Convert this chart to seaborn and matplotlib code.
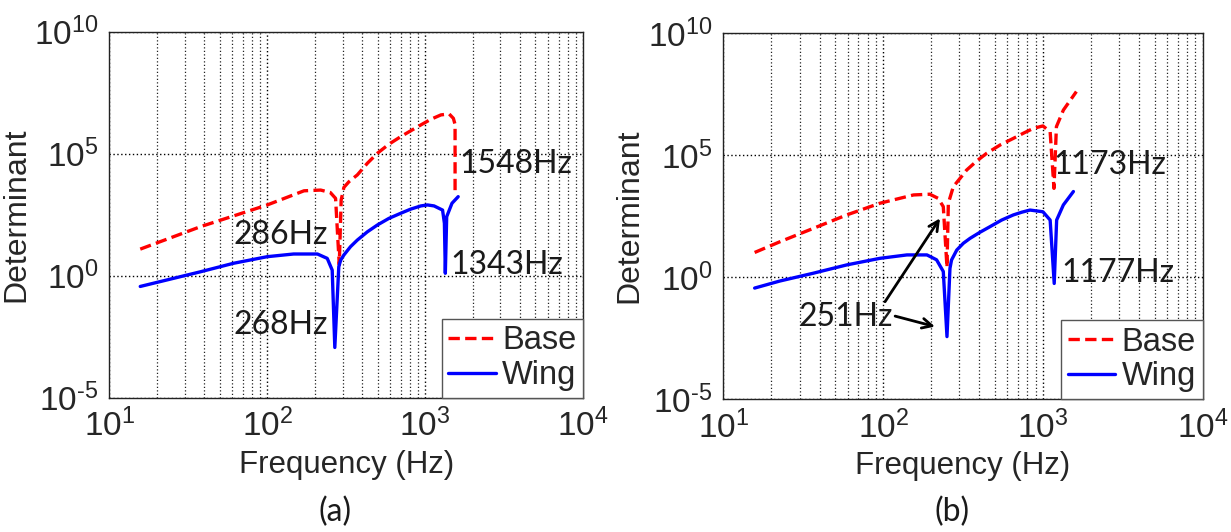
import numpy as np
import pandas as pd
import matplotlib
matplotlib.use("Agg")
import matplotlib.pyplot as plt
from matplotlib.ticker import LogLocator, NullLocator, FixedLocator, FixedFormatter
import seaborn as sns

# ---- panel (a): frequency [Hz] and log10(determinant) ----
a_base_freq = [15.7, 37.8, 61.2, 100, 171, 218, 251, 271, 286, 294, 306, 329,
               372, 431, 499, 590, 701, 811, 940, 1087, 1259, 1420, 1510, 1548, 1548]
a_base_logdet = [1.09, 2.01, 2.45, 2.90, 3.48, 3.51, 3.41, 3.17, 0.45, 3.10, 3.62, 3.85,
                 4.13, 4.61, 5.02, 5.39, 5.70, 5.94, 6.18, 6.41, 6.59, 6.63, 6.45, 6.20, 3.44]
a_wing_freq = [15.7, 37.7, 61.2, 100, 147, 208, 240, 258, 268, 284, 292, 306, 337,
               372, 431, 499, 590, 701, 811, 940, 1035, 1140, 1290, 1325, 1343,
               1370, 1480, 1620]
a_wing_logdet = [-0.44, 0.16, 0.51, 0.78, 0.89, 0.89, 0.71, 0.23, -2.94, 0.37, 0.64, 0.85, 1.19,
                 1.46, 1.80, 2.08, 2.35, 2.56, 2.73, 2.86, 2.90, 2.86, 2.69, 2.15, 0.10,
                 2.42, 2.97, 3.24]

# ---- panel (b) ----
b_base_freq = [15.7, 22.6, 36.6, 59.2, 95.5, 155, 196, 221, 238, 251, 256, 275, 303,
               333, 385, 445, 540, 653, 754, 871, 1000, 1110, 1173, 1215, 1343, 1620]
b_base_logdet = [1.01, 1.45, 2.00, 2.55, 3.03, 3.37, 3.40, 3.23, 2.89, 0.40, 3.03, 3.71, 4.05,
                 4.39, 4.76, 5.08, 5.42, 5.69, 5.90, 6.10, 6.20, 5.96, 3.64, 6.17, 6.85, 7.61]
b_wing_freq = [15.7, 22.6, 36.6, 59.2, 95.5, 141, 188, 216, 238, 251, 262, 268, 289, 318,
               350, 404, 467, 552, 653, 736, 830, 1000, 1110, 1177, 1219, 1343, 1552]
b_wing_logdet = [-0.45, -0.16, 0.16, 0.50, 0.77, 0.91, 0.91, 0.71, 0.23, -2.44, 0.36, 0.70, 1.11,
                 1.39, 1.59, 1.84, 2.07, 2.34, 2.55, 2.66, 2.75, 2.68, 2.34, -0.26, 2.34,
                 2.96, 3.51]

series_names = ["Base", "Wing"]
x_ticks = [1e1, 1e2, 1e3, 1e4]
x_tick_labels = ["$10^{1}$", "$10^{2}$", "$10^{3}$", "$10^{4}$"]
y_ticks = [1e-5, 1e0, 1e5, 1e10]
y_tick_labels = ["$10^{\u20105}$", "$10^{0}$", "$10^{5}$", "$10^{10}$"]

sns.set_style("white")
plt.rcParams["font.family"] = ["Liberation Sans", "DejaVu Sans"]
plt.rcParams["axes.unicode_minus"] = False
plt.rcParams["mathtext.default"] = "regular"

DOT = (0, (1, 1.8))
LABEL_FONT = ["Lato", "DejaVu Sans"]


def build_frame(base_f, base_d, wing_f, wing_d):
    base = pd.DataFrame({"Frequency": base_f,
                         "Determinant": np.power(10.0, base_d),
                         "Series": series_names[0]})
    wing = pd.DataFrame({"Frequency": wing_f,
                         "Determinant": np.power(10.0, wing_d),
                         "Series": series_names[1]})
    return pd.concat([base, wing], ignore_index=True)


def draw_panel(ax, frame):
    sns.lineplot(data=frame, x="Frequency", y="Determinant", hue="Series",
                 style="Series", hue_order=series_names, style_order=series_names,
                 palette={"Base": "#ff0000", "Wing": "#0000ff"},
                 dashes={"Base": (3.4, 1.6), "Wing": ""},
                 sort=False, estimator=None, linewidth=2.4, legend=False, ax=ax)
    ax.set_xscale("log")
    ax.set_yscale("log")
    ax.set_xlim(x_ticks[0], x_ticks[-1])
    ax.set_ylim(y_ticks[0], y_ticks[-1])
    ax.xaxis.set_major_locator(FixedLocator(x_ticks))
    ax.xaxis.set_major_formatter(FixedFormatter(x_tick_labels))
    ax.yaxis.set_major_locator(FixedLocator(y_ticks))
    ax.yaxis.set_major_formatter(FixedFormatter(y_tick_labels))
    ax.xaxis.set_minor_locator(LogLocator(base=10, subs=np.arange(2, 10), numticks=20))
    ax.yaxis.set_minor_locator(NullLocator())
    ax.grid(which="major", axis="both", color="black", linestyle=DOT, linewidth=1.0)
    ax.grid(which="minor", axis="x", color="#222222", linestyle=DOT, linewidth=0.9)
    ax.tick_params(which="major", direction="in", length=5, width=0.8,
                   labelsize=24, pad=8, top=False, right=False)
    ax.tick_params(which="minor", direction="in", length=3, width=0.6)
    for s in ax.spines.values():
        s.set_color("#222222")
        s.set_linewidth(1.0)
    ax.set_xlabel("Frequency (Hz)", fontsize=22.5)
    ax.set_ylabel("Determinant", fontsize=23)
    ax.xaxis.set_label_coords(0.5, -0.143)
    ax.yaxis.set_label_coords(-0.165, 0.5)
    leg = ax.legend(ax.lines[:2], series_names, loc="lower right", fontsize=23.5,
                    frameon=True, fancybox=False, framealpha=1.0,
                    edgecolor="#555555", borderaxespad=0.0, borderpad=0.2,
                    handlelength=1.45, handletextpad=0.2, labelspacing=0.12)
    leg.get_frame().set_linewidth(1.0)


fig = plt.figure(figsize=(12.31, 5.32), dpi=100)
ax_a = fig.add_axes([0.0888, 0.2524, 0.3848, 0.688])
ax_b = fig.add_axes([0.5876, 0.2500, 0.3894, 0.6874])

draw_panel(ax_a, build_frame(a_base_freq, a_base_logdet, a_wing_freq, a_wing_logdet))
draw_panel(ax_b, build_frame(b_base_freq, b_base_logdet, b_wing_freq, b_wing_logdet))

note_kw = dict(fontsize=23, color="#1a1a1a", family=LABEL_FONT, va="center", ha="left")
ax_a.text(1640, 10**4.58, "1548Hz", **note_kw)
ax_a.text(1456, 10**0.44, "1343Hz", **note_kw)
ax_a.text(61.2, 10**1.67, "286Hz", **note_kw)
ax_a.text(61.2, 10**-2.02, "268Hz", **note_kw)

ax_b.text(1161, 10**4.60, "1173Hz", **note_kw)
ax_b.text(1312, 10**0.16, "1177Hz", **note_kw)
ax_b.text(29.4, 10**-1.62, "251Hz", **note_kw)
arrow_kw = dict(arrowstyle="->,head_length=0.7,head_width=0.35", color="black", lw=2.0,
                shrinkA=0, shrinkB=0)
ax_b.annotate("", xy=(227, 10**2.41), xytext=(102.8, 10**-1.01), arrowprops=arrow_kw)
ax_b.annotate("", xy=(211, 10**-2.03), xytext=(118.9, 10**-1.60), arrowprops=arrow_kw)

fig.text(335 / 1231, 1 - 512 / 532, "(a)", fontsize=23, family=LABEL_FONT,
         ha="center", va="center", color="#1a1a1a")
fig.text(952 / 1231, 1 - 512 / 532, "(b)", fontsize=23, family=LABEL_FONT,
         ha="center", va="center", color="#1a1a1a")

fig.savefig("out.png", dpi=100)
